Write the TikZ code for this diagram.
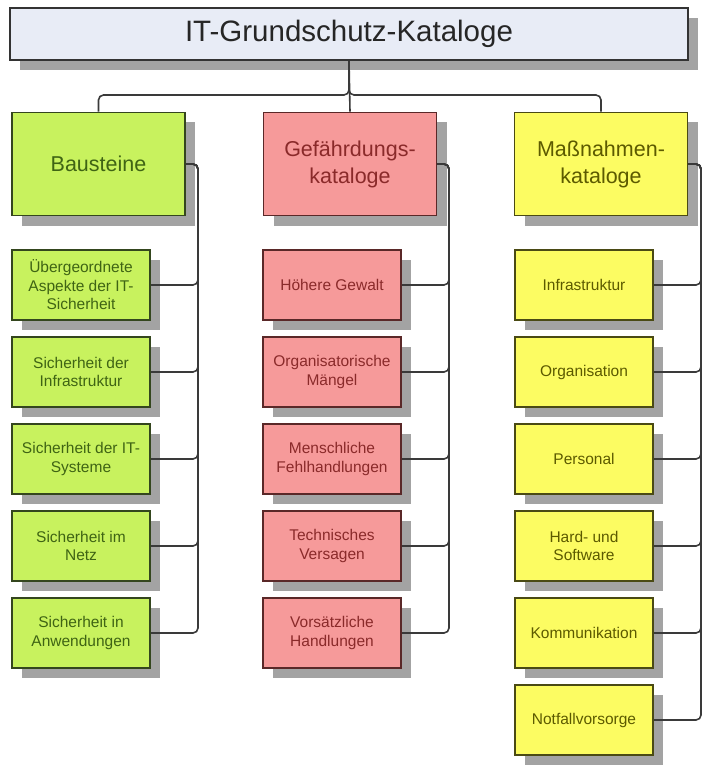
\documentclass[tikz,border=0pt]{standalone}
\usepackage{fontspec}
\setmainfont{Liberation Sans}
\usetikzlibrary{shadows}
\definecolor{titlefill}{HTML}{E8ECF6}
\definecolor{gfill}{HTML}{C8F25E}
\definecolor{gdraw}{HTML}{34461E}
\definecolor{gtext}{HTML}{3F6414}
\definecolor{rfill}{HTML}{F69A9A}
\definecolor{rdraw}{HTML}{5A2828}
\definecolor{rtext}{HTML}{8A2A2A}
\definecolor{yfill}{HTML}{FCFC62}
\definecolor{ydraw}{HTML}{4A4A14}
\definecolor{ytext}{HTML}{5C5A00}
\definecolor{conncol}{HTML}{3A3A3A}
\tikzset{
  box/.style={draw, line width=1.6pt, inner sep=0pt, align=center,
    drop shadow={shadow xshift=10pt, shadow yshift=-10pt, fill=black, opacity=0.36}},
  titlebox/.style={box, fill=titlefill, draw=black!80, minimum width=678pt, minimum height=52pt,
    font=\fontsize{29.5}{33}\selectfont, text=black!85},
  headbox/.style={box, minimum width=173pt, minimum height=103pt, font=\fontsize{21.5}{27}\selectfont},
  childbox/.style={box, minimum width=138pt, minimum height=70pt, font=\fontsize{15.5}{18.5}\selectfont},
  gstyle/.style={fill=gfill, draw=gdraw, text=gtext},
  rstyle/.style={fill=rfill, draw=rdraw, text=rtext},
  ystyle/.style={fill=yfill, draw=ydraw, text=ytext},
  conn/.style={draw=conncol, line width=1.6pt, rounded corners=5pt},
}
\begin{document}
\begin{tikzpicture}[x=1pt, y=-1pt]
\useasboundingbox[fill=white] (0,0) rectangle (709,773);
% title
\node[titlebox] (T) at (349,34) {IT-Grundschutz-Kataloge};
% headers
\node[headbox, gstyle] (B) at (98.5,164) {Bausteine};
\node[headbox, rstyle] (G) at (350,164) {Gefährdungs-\\kataloge};
\node[headbox, ystyle] (M) at (601,164) {Maßnahmen-\\kataloge};
% left column
\node[childbox, gstyle] (B1) at (81,285) {Übergeordnete\\Aspekte der IT-\\Sicherheit};
\node[childbox, gstyle] (B2) at (81,372) {Sicherheit der\\Infrastruktur};
\node[childbox, gstyle] (B3) at (81,459) {Sicherheit der IT-\\Systeme};
\node[childbox, gstyle] (B4) at (81,546) {Sicherheit im\\Netz};
\node[childbox, gstyle] (B5) at (81,633) {Sicherheit in\\Anwendungen};
% middle column
\node[childbox, rstyle] (G1) at (332,285) {Höhere Gewalt};
\node[childbox, rstyle] (G2) at (332,372) {Organisatorische\\Mängel};
\node[childbox, rstyle] (G3) at (332,459) {Menschliche\\Fehlhandlungen};
\node[childbox, rstyle] (G4) at (332,546) {Technisches\\Versagen};
\node[childbox, rstyle] (G5) at (332,633) {Vorsätzliche\\Handlungen};
% right column
\node[childbox, ystyle] (M1) at (584,285) {Infrastruktur};
\node[childbox, ystyle] (M2) at (584,372) {Organisation};
\node[childbox, ystyle] (M3) at (584,459) {Personal};
\node[childbox, ystyle] (M4) at (584,546) {Hard- und\\Software};
\node[childbox, ystyle] (M5) at (584,633) {Kommunikation};
\node[childbox, ystyle] (M6) at (584,720) {Notfallvorsorge};
% top connectors
\coordinate (J) at (349,95);
\draw[conn] (T.south) -- (J) -| (B.north);
\draw[conn] (T.south) -- (J) -| (M.north);
\draw[conn] (T.south) -- (G.north);
% column connectors
\foreach \i in {1,...,5} {
  \draw[conn] (B.east) -- (198,164) |- (B\i.east);
  \draw[conn] (G.east) -- (449,164) |- (G\i.east);
}
\foreach \i in {1,...,6} {
  \draw[conn] (M.east) -- (701,164) |- (M\i.east);
}
\end{tikzpicture}
\end{document}
